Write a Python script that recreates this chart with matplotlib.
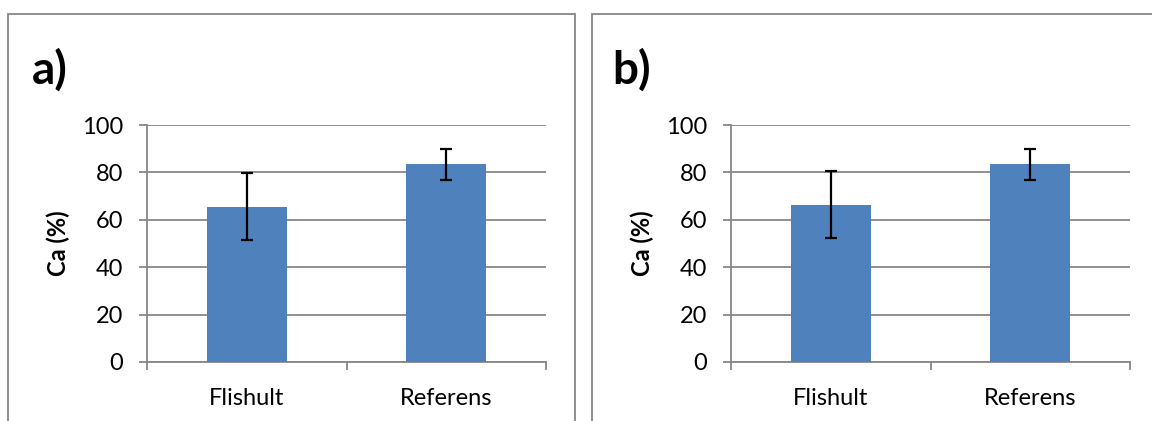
import matplotlib.pyplot as plt
from matplotlib.patches import Rectangle

plt.rcParams['font.family'] = ['Lato', 'DejaVu Sans']

# Ca-halter, medel och spridning per lokal
lokaler = ['Flishult', 'Referens']
ca_a = [65.6, 83.4]
fel_a = [14.2, 6.6]
ca_b = [66.4, 83.4]
fel_b = [14.2, 6.6]
paneler = ['a)', 'b)']

BLA = '#4F81BD'
GRA = '#878787'

W, H = 1152, 421
fig = plt.figure(figsize=(W / 100, H / 100), dpi=100)

def px(x0, y0, x1, y1):
    # pixelruta -> figurkoordinater
    return [x0 / W, 1 - y1 / H, (x1 - x0) / W, (y1 - y0) / H]

def ram(x0, y0, x1, y1):
    r = Rectangle((x0 / W, 1 - y1 / H), (x1 - x0) / W, (y1 - y0) / H,
                  transform=fig.transFigure, fill=False, edgecolor=GRA,
                  linewidth=1.3, clip_on=False)
    fig.add_artist(r)

def stapel(ax, varden, fel, bokstav, fx):
    x = range(len(lokaler))
    ax.bar(x, varden, width=0.4, color=BLA, zorder=3)
    ax.errorbar(x, varden, yerr=fel, fmt='none', ecolor='black',
                elinewidth=1.6, capsize=4.5, capthick=1.6, zorder=4)
    ax.set_xlim(-0.5, 1.5)
    ax.set_ylim(0, 100)
    ax.set_yticks(range(0, 101, 20))
    ax.set_xticks(list(x))
    ax.set_xticklabels(lokaler)
    ax.set_xticks([-0.5, 0.5, 1.5], minor=True)
    ax.tick_params(axis='x', which='major', length=0, pad=19, labelsize=17)
    ax.tick_params(axis='x', which='minor', length=6, width=1.3, color=GRA, direction='out')
    ax.tick_params(axis='y', length=6, width=1.3, color=GRA, pad=11, labelsize=17)
    ax.yaxis.grid(True, color=GRA, linewidth=1.3, zorder=0)
    for s in ['top', 'right']:
        ax.spines[s].set_visible(False)
    for s in ['left', 'bottom']:
        ax.spines[s].set_color(GRA)
        ax.spines[s].set_linewidth(1.3)
    ax.set_ylabel('Ca (%)', fontsize=17, fontweight='bold', labelpad=9)
    fig.text(fx / W, 1 - 84 / H, bokstav, fontsize=33, fontweight='bold', ha='left')

ram(8, 14, 575, 440)
ram(592, 14, 1170, 440)

ax1 = fig.add_axes(px(147, 125, 546, 362))
ax2 = fig.add_axes(px(731, 125, 1130, 362))
stapel(ax1, ca_a, fel_a, paneler[0], 32)
stapel(ax2, ca_b, fel_b, paneler[1], 612)

fig.savefig('out.png', dpi=100)
